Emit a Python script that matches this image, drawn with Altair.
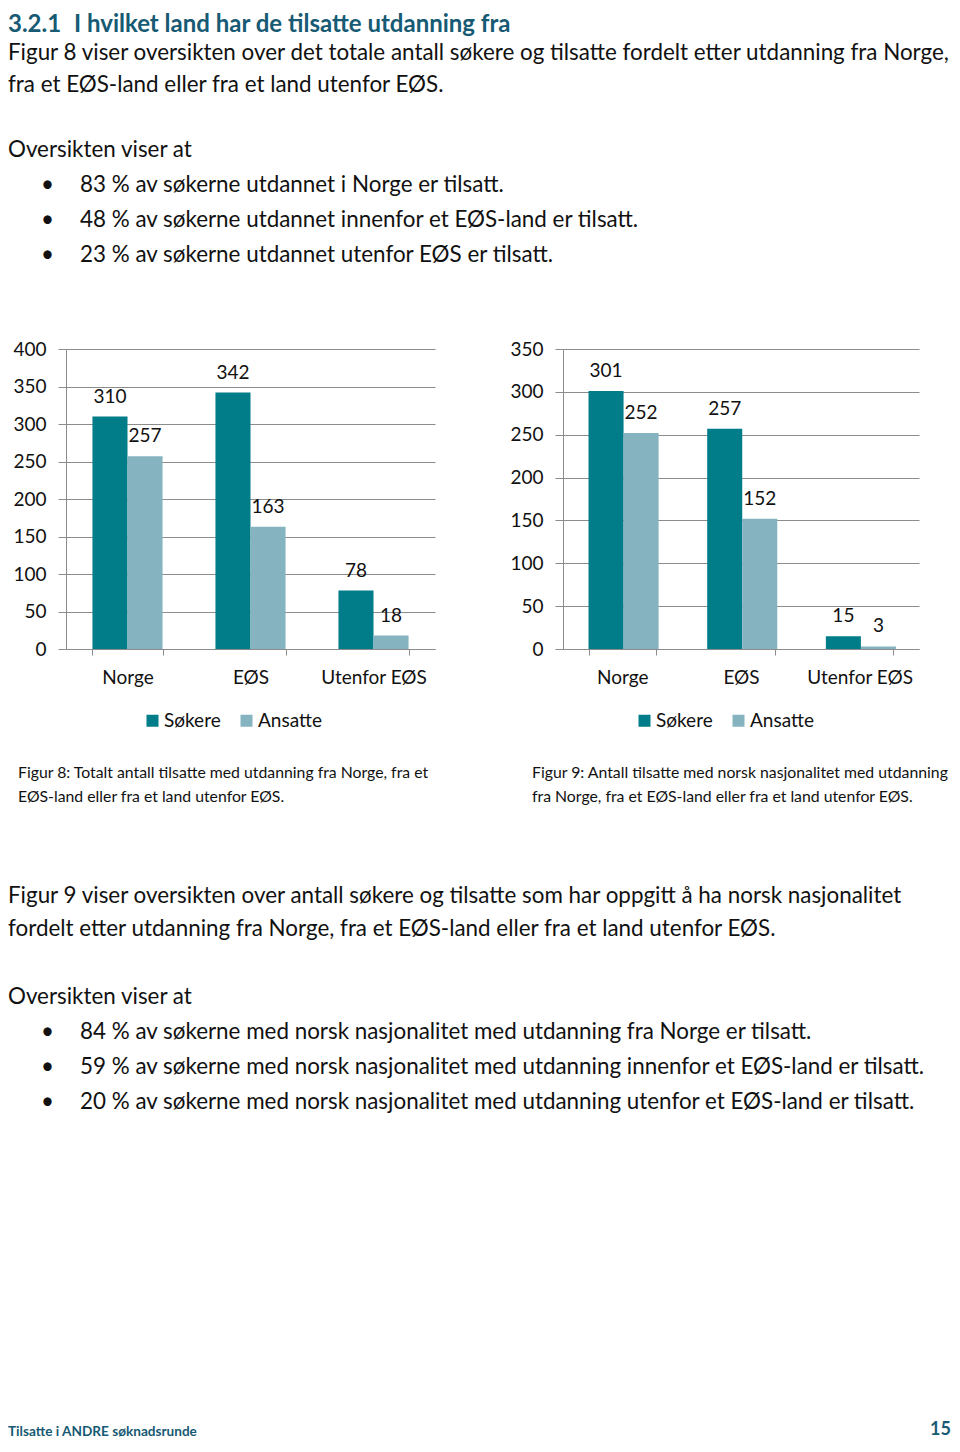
import altair as alt
import pandas as pd

# ---------------- data ----------------
categories = ["Norge", "EØS", "Utenfor EØS"]
series = ["Søkere", "Ansatte"]

fig8_sokere = [310, 342, 78]
fig8_ansatte = [257, 163, 18]
fig9_sokere = [301, 257, 15]
fig9_ansatte = [252, 152, 3]

fig8_ticks = [0, 50, 100, 150, 200, 250, 300, 350, 400]
fig9_ticks = [0, 50, 100, 150, 200, 250, 300, 350]

title_number = "3.2.1"
title_text = "I hvilket land har de tilsatte utdanning fra"
intro_lines = [
    "Figur 8 viser oversikten over det totale antall søkere og tilsatte fordelt etter utdanning fra Norge,",
    "fra et EØS-land eller fra et land utenfor EØS.",
]
lead_text = "Oversikten viser at"
bullets_8 = [
    "83 % av søkerne utdannet i Norge er tilsatt.",
    "48 % av søkerne utdannet innenfor et EØS-land er tilsatt.",
    "23 % av søkerne utdannet utenfor EØS er tilsatt.",
]
caption_8 = [
    "Figur 8: Totalt antall tilsatte med utdanning fra Norge, fra et",
    "EØS-land eller fra et land utenfor EØS.",
]
caption_9 = [
    "Figur 9: Antall tilsatte med norsk nasjonalitet med utdanning",
    "fra Norge, fra et EØS-land eller fra et land utenfor EØS.",
]
para_9 = [
    "Figur 9 viser oversikten over antall søkere og tilsatte som har oppgitt å ha norsk nasjonalitet",
    "fordelt etter utdanning fra Norge, fra et EØS-land eller fra et land utenfor EØS.",
]
bullets_9 = [
    "84 % av søkerne med norsk nasjonalitet med utdanning fra Norge er tilsatt.",
    "59 % av søkerne med norsk nasjonalitet med utdanning innenfor et EØS-land er tilsatt.",
    "20 % av søkerne med norsk nasjonalitet med utdanning utenfor et EØS-land er tilsatt.",
]
footer_left = "Tilsatte i ANDRE søknadsrunde"
footer_page = "15"

# ---------------- style ----------------
FONT = "Lato"
TEAL = "#017d8a"
LIGHT = "#86b3c0"
GRAY = "#8c8c8c"
HEAD = "#175a73"
INK = "#111111"
BODY = 22.4
AX = 19
TITLE_SIZE = 24
TITLE_Y = 25

# plot-area origin of the left chart on the page: (66, 349)
OX, OY = 66, 349


def bars_df(sok, ans):
    rows = []
    for c, s, a in zip(categories, sok, ans):
        rows.append({"category": c, "series": series[0], "value": s})
        rows.append({"category": c, "series": series[1], "value": a})
    return pd.DataFrame(rows)


def bar_chart(sok, ans, ticks, ymax, width, legend_x):
    df = bars_df(sok, ans)
    x = alt.X(
        "category:N", sort=categories, title=None,
        scale=alt.Scale(paddingInner=0.43, paddingOuter=0.215),
        axis=alt.Axis(labelAngle=0, tickBand="extent", domainColor=GRAY,
                      tickColor=GRAY, tickSize=6, labelFontSize=AX,
                      labelColor=INK, labelFont=FONT, labelPadding=13,
                      grid=False),
    )
    y = alt.Y(
        "value:Q", title=None,
        scale=alt.Scale(domain=[0, ymax], nice=False, zero=True),
        axis=alt.Axis(values=ticks, grid=True, gridColor=GRAY,
                      domainColor=GRAY, tickColor=GRAY, tickSize=8,
                      labelPadding=12, labelFontSize=AX, labelColor=INK,
                      labelFont=FONT, labelOverlap=False),
    )
    xo = alt.XOffset("series:N", sort=series,
                     scale=alt.Scale(paddingInner=0, paddingOuter=0))
    color = alt.Color(
        "series:N", sort=series,
        scale=alt.Scale(domain=series, range=[TEAL, LIGHT]),
        legend=alt.Legend(orient="none", legendX=legend_x, legendY=362,
                          direction="horizontal", title=None,
                          symbolType="square", symbolSize=144,
                          symbolStrokeWidth=0, labelFontSize=AX,
                          labelFont=FONT, labelColor=INK, labelOffset=2,
                          columnPadding=16, padding=0),
    )
    bars = alt.Chart(df).mark_bar().encode(x=x, y=y, xOffset=xo, color=color)
    labels = alt.Chart(df).mark_text(
        baseline="alphabetic", dy=-14, fontSize=AX, font=FONT, color=INK
    ).encode(x=x, y=y, xOffset=xo, text="value:Q")
    return alt.layer(bars, labels).properties(width=width, height=300)


def text_df(lines, px, py, step):
    return pd.DataFrame({
        "t": lines,
        "x": [px - OX] * len(lines),
        "y": [py - OY + i * step for i in range(len(lines))],
    })


def text_layer(df, size, weight="normal", color=INK, align="left"):
    return alt.Chart(df).mark_text(
        align=align, baseline="middle", fontSize=size, fontWeight=weight,
        font=FONT, color=color
    ).encode(
        x=alt.X("x:Q", scale=None, axis=None),
        y=alt.Y("y:Q", scale=None, axis=None),
        text="t:N",
    )


layers = [
    text_layer(pd.concat([text_df([title_number], 8, TITLE_Y, 0),
                          text_df([title_text], 74, TITLE_Y, 0)]),
               TITLE_SIZE, "bold", HEAD),
    text_layer(text_df(intro_lines, 8, 53, 32), BODY),
    text_layer(text_df([lead_text], 8, 150, 0), BODY),
    text_layer(text_df(["•"] * 3, 41, 185, 35), BODY),
    text_layer(text_df(bullets_8, 80, 185, 35), BODY),
    text_layer(text_df(caption_8, 18, 773, 24), 15.8),
    text_layer(text_df(caption_9, 532, 773, 24), 15.8),
    text_layer(text_df(para_9, 8, 896, 33), BODY),
    text_layer(text_df([lead_text], 8, 997, 0), BODY),
    text_layer(text_df(["•"] * 3, 41, 1032, 35), BODY),
    text_layer(text_df(bullets_9, 80, 1032, 35), BODY),
    text_layer(text_df([footer_left], 8, 1432, 0), 13.6, "bold", HEAD),
    text_layer(text_df([footer_page], 951, 1430, 0), 18, "bold", HEAD, "right"),
]

left = alt.layer(
    bar_chart(fig8_sokere, fig8_ansatte, fig8_ticks, 400, 369, 77),
    *layers
).resolve_scale(x="independent", y="independent")

right = bar_chart(fig9_sokere, fig9_ansatte, fig9_ticks, 350, 356, 72)

# vega bounds top of the title = TITLE_Y - 12 -> keep the plot top at page y 349
chart = alt.hconcat(left, right, spacing=128, bounds="flush").resolve_scale(
    color="independent"
).resolve_legend(color="independent").properties(
    padding={"top": TITLE_Y - 20, "left": 0, "right": 0, "bottom": 0}
).configure_view(stroke=None)

chart.save("out.html", embed_options={"renderer": "svg", "actions": False})
